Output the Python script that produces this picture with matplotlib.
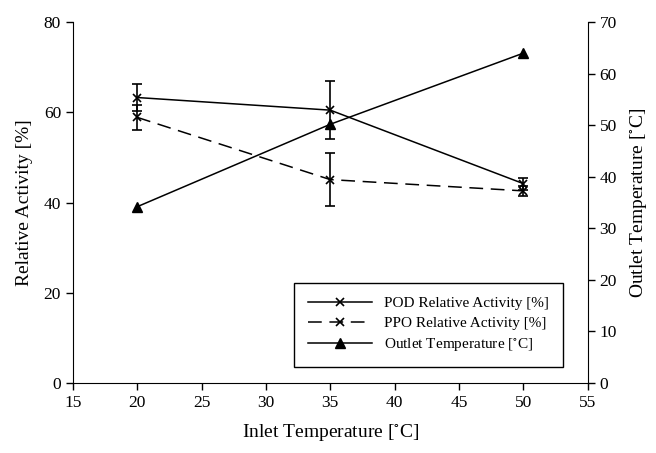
import matplotlib
matplotlib.use("Agg")
import matplotlib.pyplot as plt
import numpy as np

# data
inlet = [20, 35, 50]
pod = [63.3, 60.5, 44.2]
pod_err = [3.1, 6.4, 1.3]
ppo = [58.9, 45.1, 42.6]
ppo_err = [2.7, 5.8, 1.1]
outlet = [34.2, 50.2, 64.0]

plt.rcParams['font.family'] = ['Liberation Serif', 'DejaVu Serif']
plt.rcParams['mathtext.fontset'] = 'stix'

fig = plt.figure(figsize=(6.56, 4.53), dpi=100)
ax = fig.add_axes([0.111, 0.1545, 0.785, 0.7965])
ax2 = ax.twinx()

# error bars (solid) then the lines on top
ax.errorbar(inlet, pod, yerr=pod_err, fmt='none', ecolor='black', elinewidth=1.2, capsize=3.5, capthick=1.2)
ax.errorbar(inlet, ppo, yerr=ppo_err, fmt='none', ecolor='black', elinewidth=1.2, capsize=3.5, capthick=1.2)
l1, = ax.plot(inlet, pod, color='black', lw=1.1, marker='x', ms=6, mew=1.2,
              label='POD Relative Activity [%]')
l2, = ax.plot(inlet, ppo, color='black', lw=1.1, marker='x', ms=6, mew=1.2,
              dashes=(9, 5), label='PPO Relative Activity [%]')
l3, = ax2.plot(inlet, outlet, color='black', lw=1.1, marker='^', ms=7,
               label='Outlet Temperature [$^{\\circ}$C]')

ax.set_xlim(15, 55)
ax.set_ylim(0, 80)
ax2.set_ylim(0, 70)
ax.set_xticks(np.arange(15, 56, 5))
ax.set_yticks(np.arange(0, 81, 20))
ax2.set_yticks(np.arange(0, 71, 10))

for a in (ax, ax2):
    a.spines['top'].set_visible(False)
    a.tick_params(direction='out', length=5, width=1, labelsize=12.5, colors='black')
ax.spines['right'].set_visible(False)
ax2.spines['left'].set_visible(False)
ax2.spines['bottom'].set_visible(False)

ax.set_xlabel('Inlet Temperature [$^{\\circ}$C]', fontsize=14, labelpad=8)
ax.set_ylabel('Relative Activity [%]', fontsize=14, labelpad=8)
ax2.set_ylabel('Outlet Temperature [$^{\\circ}$C]', fontsize=14, labelpad=8)

leg = ax.legend(handles=[l1, l2, l3], loc='lower right', bbox_to_anchor=(0.966, 0.024),
                fontsize=11, handlelength=4.2, labelspacing=0.4, borderpad=0.9,
                frameon=True, fancybox=False, edgecolor='black', framealpha=1)
leg.get_frame().set_linewidth(1)

fig.savefig('out.png', dpi=100)
